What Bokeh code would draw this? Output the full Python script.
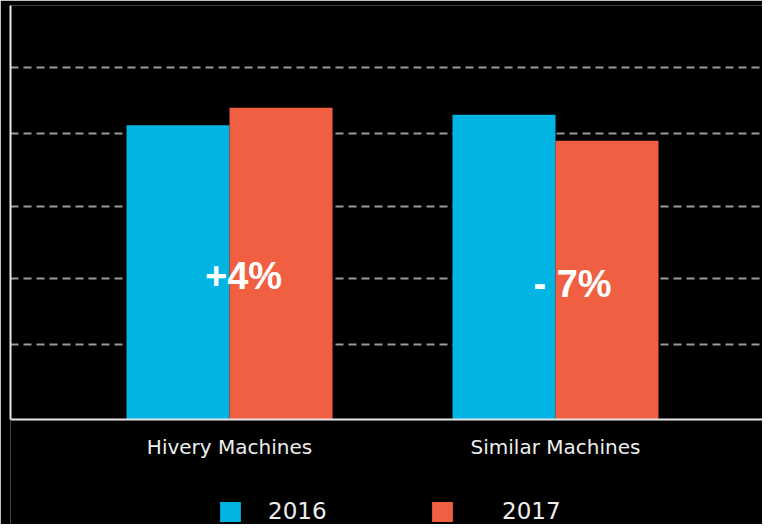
from bokeh.plotting import figure
from bokeh.models import (ColumnDataSource, FactorRange, Range1d, FixedTicker,
                          Legend, LegendItem, Span)
from bokeh.transform import dodge
from bokeh.core.properties import value
from bokeh.embed import file_html
from bokeh.resources import INLINE

# ---- data ----
categories = ["Hivery Machines", "Similar Machines"]
years = ["2016", "2017"]
sales_2016 = [4.18, 4.33]
sales_2017 = [4.43, 3.96]
grid_ticks = [1.07, 2.0, 3.03, 4.06, 5.0]
change_labels = ["+4%", "- 7%"]

# ---- styles / positions ----
BLUE = "#00B4E4"
RED = "#F15F43"
AXIS = "#e6e6e6"
change_label_y = [2.035, 1.93]
change_label_dx = [14, 17]
Y_TOP = 5.881
Y_BOTTOM = -1.4915   # room below the baseline for category labels and legend
SHIFT = 0.0184       # small horizontal shift of the groups
BW = 0.316           # bar width (category units)

src = ColumnDataSource(dict(cat=categories, v2016=sales_2016, v2017=sales_2017))
lab_src = ColumnDataSource(dict(cat=categories, y=change_label_y,
                                text=change_labels, dx=change_label_dx))

p = figure(width=762, height=524, output_backend="svg", toolbar_location=None,
           x_range=FactorRange(factors=categories, range_padding=0.1534,
                               range_padding_units="absolute"),
           y_range=Range1d(Y_BOTTOM, Y_TOP),
           min_border_left=10, min_border_right=0, min_border_top=5,
           min_border_bottom=0)

p.background_fill_color = "black"
p.border_fill_color = "black"
p.outline_line_color = None

r1 = p.vbar(x=dodge("cat", SHIFT - BW / 2, range=p.x_range), top="v2016", bottom=0,
            width=BW, source=src, fill_color=BLUE, line_color=None)
r2 = p.vbar(x=dodge("cat", SHIFT + BW / 2, range=p.x_range), top="v2017", bottom=0,
            width=BW, source=src, fill_color=RED, line_color=None)

# change labels on the bars
p.text(x=dodge("cat", SHIFT, range=p.x_range), y="y", text="text", x_offset="dx",
       source=lab_src, text_font=value("Liberation Sans"), text_font_style="bold",
       text_font_size="38px", text_color="white", text_align="center",
       text_baseline="middle")

# category labels below the baseline
p.text(x=dodge("cat", SHIFT, range=p.x_range), y=0, text="cat", source=src,
       y_offset=27, text_font=value("DejaVu Sans"), text_font_size="20px",
       text_color="#eeeeee", text_align="center", text_baseline="middle")

# baseline
p.add_layout(Span(location=0, dimension="width", line_color=AXIS, line_width=2))

# grid
p.xgrid.grid_line_color = None
p.ygrid.ticker = FixedTicker(ticks=grid_ticks)
p.ygrid.grid_line_color = "#9a9a9a"
p.ygrid.grid_line_width = 2
p.ygrid.grid_line_dash = "8 5"
p.ygrid.level = "underlay"

# axes
p.xaxis.visible = False
p.yaxis.ticker = FixedTicker(ticks=grid_ticks)
p.yaxis.bounds = (0, Y_TOP)
p.yaxis.axis_line_color = AXIS
p.yaxis.axis_line_width = 2
p.yaxis.major_tick_line_color = None
p.yaxis.minor_tick_line_color = None
p.yaxis.major_label_text_font_size = "0px"
p.yaxis.major_label_text_alpha = 0
p.yaxis.major_label_standoff = 0
p.yaxis.major_tick_out = 0

legend_style = dict(orientation="horizontal", background_fill_alpha=0,
                    border_line_alpha=0, glyph_width=26, glyph_height=25,
                    padding=0, margin=0, label_text_font="DejaVu Sans",
                    label_text_font_size="23px", label_text_color="#eeeeee")
legend1 = Legend(items=[LegendItem(label=years[0], renderers=[r1])],
                 location=(207, 0), label_standoff=25, **legend_style)
legend2 = Legend(items=[LegendItem(label=years[1], renderers=[r2])],
                 location=(419, 0), label_standoff=47, **legend_style)
p.add_layout(legend1)
p.add_layout(legend2)

open("out.html", "w").write(file_html(p, INLINE))
